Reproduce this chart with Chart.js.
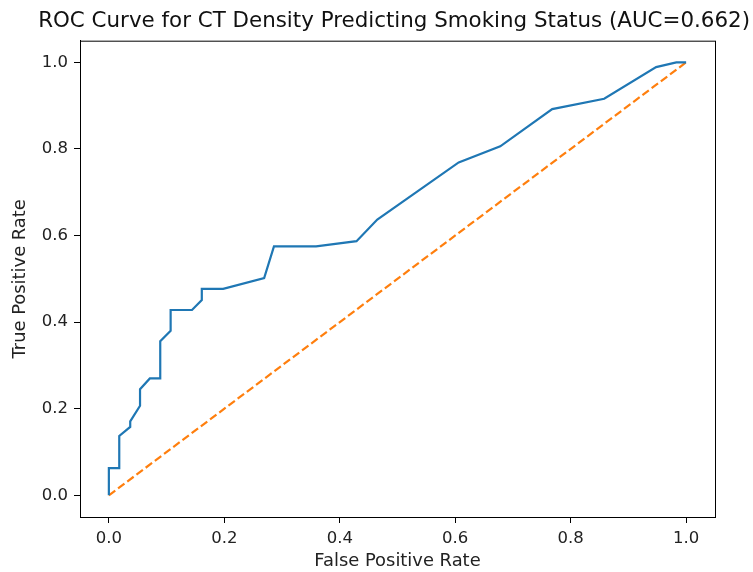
<!DOCTYPE html>
<html>
<head>
<meta charset="utf-8">
<script src="https://cdn.jsdelivr.net/npm/chart.js@4.4.0/dist/chart.umd.min.js"></script>
<style>
  html, body { margin: 0; padding: 0; background: #fff; }
  #wrap { width: 753px; height: 572px; }
</style>
</head>
<body>
<div id="wrap"><canvas id="roc"></canvas></div>
<script>
// ROC curve points
const fpr = [0, 0, 0.018, 0.018, 0.037, 0.037, 0.054, 0.054, 0.071, 0.089, 0.089, 0.107, 0.107, 0.144, 0.161, 0.161, 0.198, 0.269, 0.286, 0.359, 0.429, 0.465, 0.606, 0.678, 0.768, 0.858, 0.948, 0.983, 1.0];
const tpr = [0, 0.063, 0.063, 0.137, 0.158, 0.171, 0.207, 0.245, 0.270, 0.270, 0.356, 0.380, 0.428, 0.428, 0.451, 0.477, 0.477, 0.502, 0.575, 0.575, 0.587, 0.637, 0.769, 0.806, 0.892, 0.916, 0.989, 1.0, 1.0];
const chanceX = [0, 1];
const chanceY = [0, 1];
const tickVals = [0, 0.2, 0.4, 0.6, 0.8, 1.0];
const auc = 0.662;

const FONT = "'DejaVu Sans', sans-serif";
Chart.defaults.font.family = FONT;
Chart.defaults.color = "#222";

// draws the axes box (top + right spines)
const frame = {
  id: "frame",
  afterDraw(chart) {
    const { ctx, chartArea: a } = chart;
    ctx.save();
    ctx.strokeStyle = "#000";
    ctx.lineWidth = 1;
    ctx.strokeRect(a.left + 0.5, a.top + 0.5, a.right - a.left, a.bottom - a.top);
    ctx.restore();
  }
};

const axisCommon = {
  type: "linear",
  min: -0.05,
  max: 1.05,
  afterBuildTicks: (scale) => { scale.ticks = tickVals.map(v => ({ value: v })); },
  ticks: {
    font: { size: 16.5 },
    color: "#222",
    padding: 6,
    callback: (v) => v.toFixed(1)
  },
  grid: { drawOnChartArea: false, drawTicks: true, tickLength: 6, tickColor: "#000" },
  border: { display: true, color: "#000", width: 1 }
};

new Chart(document.getElementById("roc"), {
  type: "scatter",
  data: {
    datasets: [
      {
        data: fpr.map((x, i) => ({ x: x, y: tpr[i] })),
        showLine: true,
        borderColor: "#1f77b4",
        borderWidth: 2.2,
        pointRadius: 0,
        tension: 0
      },
      {
        data: chanceX.map((x, i) => ({ x: x, y: chanceY[i] })),
        showLine: true,
        borderColor: "#ff7f0e",
        borderWidth: 2.2,
        borderDash: [8, 3.5],
        pointRadius: 0
      }
    ]
  },
  options: {
    responsive: true,
    maintainAspectRatio: false,
    animation: false,
    layout: { padding: { left: 0, right: 3, top: 0, bottom: 0 } },
    plugins: {
      legend: { display: false },
      tooltip: { enabled: false },
      title: {
        display: true,
        align: "end",
        text: "ROC Curve for CT Density Predicting Smoking Status (AUC=" + auc.toFixed(3) + ")",
        font: { size: 21.4, weight: "normal" },
        color: "#111",
        padding: { top: 9, bottom: 6 }
      }
    },
    scales: {
      x: Object.assign({}, axisCommon, {
        title: { display: true, text: "False Positive Rate", font: { size: 17.9 }, color: "#222", padding: { top: 2, bottom: 0 } },
        afterFit: (s) => { s.height = 55; }
      }),
      y: Object.assign({}, axisCommon, {
        title: { display: true, text: "True Positive Rate", font: { size: 17.9 }, color: "#222", padding: { top: 10, bottom: 4 } },
        afterFit: (s) => { s.width = 80; }
      }),
      // empty spacer on the right so the plot ends where the reference does
      yRight: {
        position: "right",
        display: true,
        ticks: { display: false },
        grid: { display: false },
        border: { display: false },
        afterFit: (s) => { s.width = 35; }
      }
    }
  },
  plugins: [frame]
});
</script>
</body>
</html>
